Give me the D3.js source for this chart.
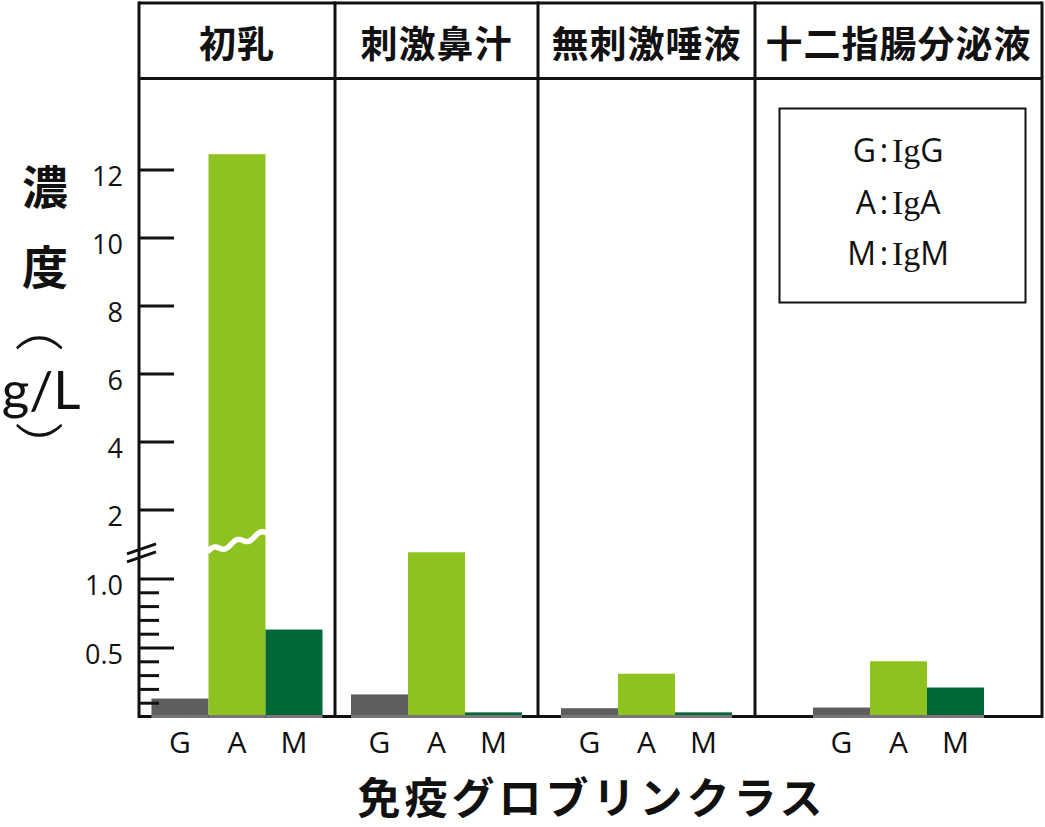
<!DOCTYPE html>
<html>
<head>
<meta charset="utf-8">
<script src="https://cdn.jsdelivr.net/npm/d3@7/dist/d3.min.js"></script>
<style>
html,body{margin:0;padding:0;background:#fff;}
svg{display:block;}
</style>
</head>
<body>
<svg id="chart" width="1045" height="827"></svg>
<script>
// ---- data ----
const panels = ["初乳", "刺激鼻汁", "無刺激唾液", "十二指腸分泌液"];
const classes = ["G", "A", "M"];
const igG = [0.13, 0.16, 0.06, 0.065];
const igA = [12.45, 1.19, 0.31, 0.40];
const igM = [0.63, 0.03, 0.03, 0.21];
const upperTicks = [2, 4, 6, 8, 10, 12];
const lowerTicks = [0.5, 1.0];
const minorTicks = [0.1, 0.2, 0.3, 0.4, 0.6, 0.7, 0.8, 0.9];
const legendClasses = ["G", "A", "M"];
const legendNames = ["IgG", "IgA", "IgM"];
const yTitleChars = ["濃", "度"];
const yUnit = "g/L";
const xTitle = "免疫グロブリンクラス";

// ---- layout ----
const svg = d3.select("#chart");
const W = 1045, H = 827;
const frameL = 139, frameR = 1042, frameT = 3, headerBottom = 78.5, base = 716.5;
const panelEdges = [frameL, 335, 538, 755, frameR];
const barW = 57;
const colors = { G: "#5f5d5e", A: "#8dc21f", M: "#006837" };
const values = { G: igG, A: igA, M: igM };
const sansFont = "'Open Sans', 'Noto Sans', sans-serif";
const cjkFont = "'Noto Sans CJK JP', sans-serif";

svg.append("rect").attr("width", W).attr("height", H).attr("fill", "#fff");

// y scales (broken axis)
const yLow = d3.scaleLinear().domain([0, 1]).range([base, base - 138]);
const yHigh = d3.scaleLinear().domain([2, 12]).range([509.5, 169.5]);
const breakVal = 1.2;
const y = v => v <= breakVal ? yLow(v) : yHigh(v);

// panel scale
const px = d3.scaleOrdinal().domain(panels).range(panels.map((p, i) => (panelEdges[i] + panelEdges[i + 1]) / 2));
const bandFor = p => d3.scaleBand().domain(classes)
  .range([px(p) - barW * 1.5, px(p) + barW * 1.5]).padding(0);

// bars
panels.forEach((p, i) => {
  const xb = bandFor(p);
  const g = svg.append("g");
  classes.forEach(c => {
    const v = values[c][i];
    g.append("rect")
      .attr("x", xb(c)).attr("width", xb.bandwidth())
      .attr("y", y(v)).attr("height", base + 0.5 - y(v))
      .attr("fill", colors[c]);
  });
  classes.forEach(c => {
    svg.append("text")
      .attr("x", xb(c) + xb.bandwidth() / 2).attr("y", 753)
      .attr("text-anchor", "middle")
      .attr("font-family", sansFont).attr("font-size", 30)
      .attr("fill", "#111").text(c);
  });
});

// break wave over the tall bar
(function () {
  const i = igA.findIndex(v => v > breakVal);
  if (i < 0) return;
  const xb = bandFor(panels[i]);
  const x0 = xb("A") - 1, x1 = xb("A") + xb.bandwidth() + 1;
  const yb = yLow(breakVal);
  const pts = d3.range(0, 1.0001, 0.02).map(t => [
    x0 + t * (x1 - x0),
    yb + 1 - t * 19 - 2.8 * Math.sin(t * Math.PI * 2 * 2.5)
  ]);
  svg.append("path").attr("d", d3.line().curve(d3.curveBasis)(pts))
    .attr("fill", "none").attr("stroke", "#fff").attr("stroke-width", 5.5);
})();

// frame lines
const lineCol = "#111";
svg.append("line").attr("x1", frameL).attr("x2", frameR).attr("y1", frameT).attr("y2", frameT)
  .attr("stroke", lineCol).attr("stroke-width", 3);
svg.append("line").attr("x1", frameL).attr("x2", frameR).attr("y1", headerBottom).attr("y2", headerBottom)
  .attr("stroke", lineCol).attr("stroke-width", 3);
panelEdges.forEach(xe => {
  svg.append("line").attr("x1", xe).attr("x2", xe).attr("y1", frameT - 1.5).attr("y2", base + 1.5)
    .attr("stroke", lineCol).attr("stroke-width", 3);
});
svg.append("line").attr("x1", frameL).attr("x2", frameR).attr("y1", base).attr("y2", base)
  .attr("stroke", lineCol).attr("stroke-width", 3);
panels.forEach((p, i) => {
  const xb = bandFor(p);
  classes.forEach(c => {
    svg.append("rect").attr("x", xb(c)).attr("width", xb.bandwidth())
      .attr("y", base - 1.5).attr("height", 3).attr("fill", "#777");
  });
});

// header titles
panels.forEach(p => {
  svg.append("text").attr("x", px(p)).attr("y", 42)
    .attr("text-anchor", "middle").attr("dominant-baseline", "central")
    .attr("font-family", cjkFont).attr("font-weight", 700).attr("font-size", 37)
    .attr("letter-spacing", 1).attr("fill", "#111").text(p);
});

// axes
const axisG = svg.append("g").attr("transform", `translate(${frameL},0)`);
const styleAxis = (sel, dy) => {
  sel.select(".domain").remove();
  sel.selectAll(".tick line").attr("stroke", lineCol).attr("stroke-width", 3);
  sel.selectAll(".tick text").attr("font-family", sansFont).attr("font-size", 27)
    .attr("fill", "#111").attr("dy", dy);
};
axisG.append("g").call(d3.axisLeft(yHigh).tickValues(upperTicks).tickSizeInner(-35).tickSizeOuter(0).tickPadding(16).tickFormat(d3.format("d")))
  .call(s => styleAxis(s, "0.6em"));
axisG.append("g").call(d3.axisLeft(yLow).tickValues(lowerTicks).tickSizeInner(-35).tickSizeOuter(0).tickPadding(16).tickFormat(d3.format(".1f")))
  .call(s => styleAxis(s, "0.6em"));
axisG.append("g").call(d3.axisLeft(yLow).tickValues(minorTicks).tickSizeInner(-20).tickSizeOuter(0).tickFormat(""))
  .call(s => styleAxis(s, "0"));
const ybk = yLow(breakVal);
[3, 11].forEach(off => {
  svg.append("line").attr("x1", frameL - 12).attr("x2", frameL + 17)
    .attr("y1", ybk + off).attr("y2", ybk + off - 10)
    .attr("stroke", lineCol).attr("stroke-width", 3);
});

// y title
yTitleChars.forEach((ch, i) => {
  svg.append("text").attr("x", 45).attr("y", [184, 264][i])
    .attr("text-anchor", "middle").attr("dominant-baseline", "central")
    .attr("font-family", cjkFont).attr("font-weight", 700).attr("font-size", 46)
    .attr("fill", "#111").text(ch);
});
// vertical parentheses as rotated "(" and ")"
svg.append("text").attr("transform", "translate(43,342) rotate(90) scale(1.5,1)")
  .attr("text-anchor", "middle").attr("dominant-baseline", "central")
  .attr("font-family", "Lato, sans-serif").attr("font-weight", 300).attr("font-size", 52)
  .attr("fill", "#111").text("(");
svg.append("text").attr("x", 41).attr("y", 409).attr("text-anchor", "middle")
  .attr("font-family", "Lato, sans-serif").attr("font-size", 53).attr("fill", "#111").text(yUnit);
svg.append("text").attr("transform", "translate(43,431) rotate(90) scale(1.5,1)")
  .attr("text-anchor", "middle").attr("dominant-baseline", "central")
  .attr("font-family", "Lato, sans-serif").attr("font-weight", 300).attr("font-size", 52)
  .attr("fill", "#111").text(")");

// x title
svg.append("text").attr("x", 592).attr("y", 814)
  .attr("text-anchor", "middle")
  .attr("font-family", cjkFont).attr("font-weight", 700).attr("font-size", 43)
  .attr("letter-spacing", 4).attr("fill", "#111").text(xTitle);

// legend
svg.append("rect").attr("x", 779.5).attr("y", 108.5).attr("width", 246).attr("height", 194)
  .attr("fill", "#fff").attr("stroke", lineCol).attr("stroke-width", 2);
const ly = d3.scalePoint().domain(legendClasses).range([162, 265]);
legendClasses.forEach((c, i) => {
  svg.append("text").attr("x", 876).attr("y", ly(c)).attr("text-anchor", "end")
    .attr("font-family", sansFont).attr("font-size", 32).attr("fill", "#111").text(c);
  svg.append("text").attr("x", 884).attr("y", ly(c)).attr("text-anchor", "middle")
    .attr("font-family", sansFont).attr("font-size", 32).attr("fill", "#111").text(":");
  const t = svg.append("text").attr("x", 892).attr("y", ly(c))
    .attr("font-size", 32).attr("fill", "#111");
  t.append("tspan").attr("font-family", "'Liberation Serif', serif").attr("font-size", 34).text(legendNames[i].slice(0, 2));
  t.append("tspan").attr("font-family", sansFont).text(legendNames[i].slice(2));
});
</script>
</body>
</html>
